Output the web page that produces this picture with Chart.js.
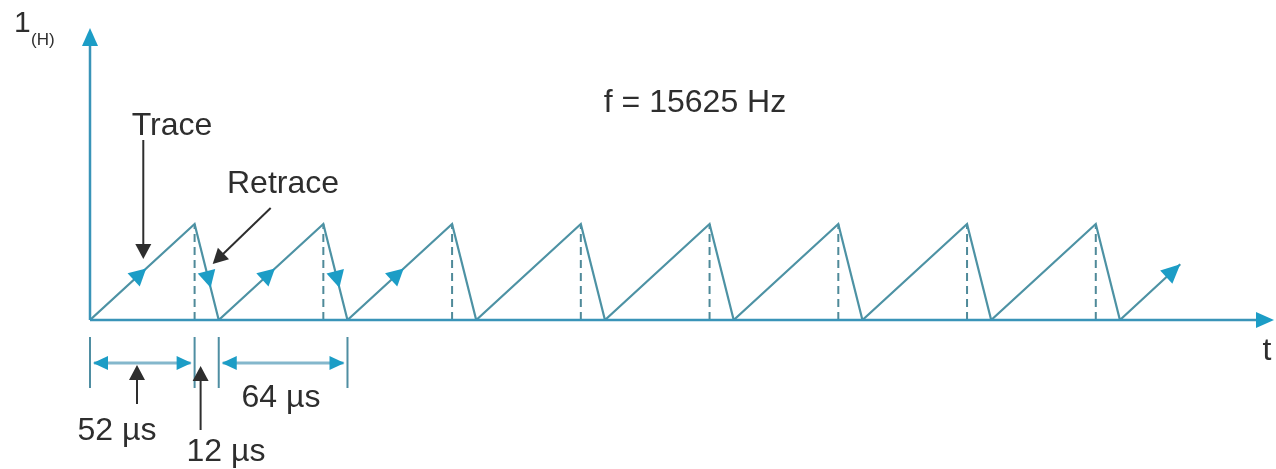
<!DOCTYPE html>
<html>
<head>
<meta charset="utf-8">
<title>Horizontal deflection sawtooth</title>
<script src="https://cdn.jsdelivr.net/npm/chart.js@4/dist/chart.umd.min.js"></script>
<style>
  html, body { margin: 0; padding: 0; background: #ffffff; }
  #wrap { width: 1276px; height: 469px; position: relative; }
</style>
</head>
<body>
<div id="wrap"><canvas id="c" width="1276" height="469"></canvas></div>
<script>
// Sawtooth of the horizontal deflection current, time in microseconds
const sawTimes  = [0, 52, 64, 116, 128, 180, 192, 244, 256, 308, 320, 372, 384, 436, 448, 500, 512, 542];
const sawLevels = [0, 1,  0,  1,   0,   1,   0,   1,   0,   1,   0,   1,   0,   1,   0,   1,   0,   0.58];
// End of each trace (dashed drop lines)
const peakTimes = [52, 116, 180, 244, 308, 372, 436, 500];
// Direction markers along the trace and the retrace
const traceArrowTimes   = [25, 89, 153];
const retraceArrowTimes = [59, 123];
// Interval dimensions under the time axis
const spanEdges  = [0, 52, 64, 128];
const spanLabels = ['52 µs', '12 µs', '64 µs'];
const freqLabel  = 'f = 15625 Hz';

const LINE = '#4d92a4';
const AXIS = '#3a94b8';
const HEAD = '#1c9dc6';
const DIM  = '#84b7cc';
const TICK = '#4f8ea2';
const INK  = '#2e2e2e';
const FONT = '"Liberation Sans", Arial, Helvetica, sans-serif';

const sawPoints = sawTimes.map((t, i) => ({ x: t, y: sawLevels[i] }));
const dropPoints = [];
peakTimes.forEach(t => { dropPoints.push({ x: t, y: 0 }, { x: t, y: 1 }, { x: t, y: null }); });

function head(ctx, tx, ty, ang, len, hw, color) {
  ctx.save();
  ctx.translate(tx, ty);
  ctx.rotate(ang);
  ctx.beginPath();
  ctx.moveTo(0, 0);
  ctx.lineTo(-len, -hw);
  ctx.lineTo(-len, hw);
  ctx.closePath();
  ctx.fillStyle = color;
  ctx.fill();
  ctx.restore();
}

function pointer(ctx, x0, y0, x1, y1) {
  const ang = Math.atan2(y1 - y0, x1 - x0);
  const len = 15;
  ctx.save();
  ctx.strokeStyle = INK;
  ctx.lineWidth = 2;
  ctx.beginPath();
  ctx.moveTo(x0, y0);
  ctx.lineTo(x1 - Math.cos(ang) * (len - 2), y1 - Math.sin(ang) * (len - 2));
  ctx.stroke();
  ctx.restore();
  head(ctx, x1, y1, ang, len, 8, INK);
}

const decorations = {
  id: 'decorations',
  afterDatasetsDraw(chart) {
    const ctx = chart.ctx;
    const xs = chart.scales.x, ys = chart.scales.y;
    const a = chart.chartArea;
    const X = v => xs.getPixelForValue(v);
    const Y = v => ys.getPixelForValue(v);
    const y0 = Y(0);

    // axes with arrowheads
    ctx.save();
    ctx.strokeStyle = AXIS;
    ctx.lineWidth = 2.5;
    ctx.beginPath();
    ctx.moveTo(a.left, y0);
    ctx.lineTo(a.left, a.top + 12);
    ctx.moveTo(a.left, y0);
    ctx.lineTo(a.right - 12, y0);
    ctx.stroke();
    ctx.restore();
    head(ctx, a.left, a.top - 2, -Math.PI / 2, 18, 8, HEAD);
    head(ctx, a.right + 2, y0, 0, 18, 8, HEAD);

    // direction markers on the waveform
    const traceAng = Math.atan2(Y(1) - Y(0), X(52) - X(0));
    const retrAng  = Math.atan2(Y(0) - Y(1), X(64) - X(52));
    traceArrowTimes.forEach(t => {
      const p = t % 64;
      const cx = X(t), cy = Y(p / 52);
      head(ctx, cx + Math.cos(traceAng) * 8, cy + Math.sin(traceAng) * 8, traceAng, 17, 9, HEAD);
    });
    retraceArrowTimes.forEach(t => {
      const p = t % 64;
      const cx = X(t), cy = Y(1 - (p - 52) / 12);
      head(ctx, cx + Math.cos(retrAng) * 8, cy + Math.sin(retrAng) * 8, retrAng, 17, 9, HEAD);
    });
    // arrowhead at the end of the waveform
    const n = sawTimes.length - 1;
    head(ctx, X(sawTimes[n]), Y(sawLevels[n]), traceAng, 19, 9, HEAD);

    // dimension marks below the axis
    ctx.save();
    ctx.strokeStyle = TICK;
    ctx.lineWidth = 2;
    ctx.beginPath();
    spanEdges.forEach(t => { ctx.moveTo(X(t), y0 + 17); ctx.lineTo(X(t), y0 + 68); });
    ctx.stroke();
    const dimY = y0 + 43;
    ctx.strokeStyle = DIM;
    ctx.lineWidth = 3;
    ctx.beginPath();
    ctx.moveTo(X(spanEdges[0]) + 4, dimY); ctx.lineTo(X(spanEdges[1]) - 4, dimY);
    ctx.moveTo(X(spanEdges[2]) + 4, dimY); ctx.lineTo(X(spanEdges[3]) - 4, dimY);
    ctx.stroke();
    ctx.restore();
    [[0, 1], [2, 3]].forEach(([i, j]) => {
      head(ctx, X(spanEdges[i]) + 3, dimY, Math.PI, 15, 7, HEAD);
      head(ctx, X(spanEdges[j]) - 3, dimY, 0, 15, 7, HEAD);
    });

    // pointers
    const tr = X(traceArrowTimes[0]) + 3;
    pointer(ctx, tr, 140, tr, 259);
    const rx = X(retraceArrowTimes[0]);
    pointer(ctx, rx + 62, 208, rx + 4, 264);
    const m52 = X(spanEdges[0]) + 47;
    pointer(ctx, m52, 404, m52, 365);
    const m12 = X(spanEdges[1]) + 6;
    pointer(ctx, m12, 430, m12, 366);

    // texts
    ctx.save();
    ctx.fillStyle = INK;
    ctx.textAlign = 'center';
    ctx.textBaseline = 'middle';
    ctx.font = '32px ' + FONT;
    ctx.fillText('Trace', 172, 126);
    ctx.fillText('Retrace', 283, 184);
    ctx.fillText(freqLabel, 695, 103);
    ctx.fillText(spanLabels[0], 117, 431);
    ctx.fillText(spanLabels[1], 226, 452);
    ctx.fillText(spanLabels[2], 281, 398);
    ctx.fillText('t', 1267, 351);
    ctx.textAlign = 'left';
    ctx.font = '30px ' + FONT;
    ctx.fillText('1', 14, 24);
    ctx.font = '17px ' + FONT;
    ctx.fillText('(H)', 31, 40);
    ctx.restore();
  }
};

new Chart(document.getElementById('c'), {
  type: 'line',
  data: {
    datasets: [
      {
        data: sawPoints,
        borderColor: LINE,
        borderWidth: 2.2,
        pointRadius: 0,
        tension: 0,
        fill: false
      },
      {
        data: dropPoints,
        borderColor: '#4f8a99',
        borderWidth: 2,
        borderDash: [8, 5],
        pointRadius: 0,
        spanGaps: false,
        tension: 0,
        fill: false
      }
    ]
  },
  options: {
    responsive: false,
    devicePixelRatio: 1,
    animation: false,
    events: [],
    layout: { padding: { left: 90, right: 4, top: 30, bottom: 149 } },
    plugins: { legend: { display: false }, tooltip: { enabled: false } },
    scales: {
      x: { type: 'linear', min: 0, max: 587.6, display: false },
      y: { type: 'linear', min: 0, max: 3.02, display: false }
    }
  },
  plugins: [decorations]
});
</script>
</body>
</html>
